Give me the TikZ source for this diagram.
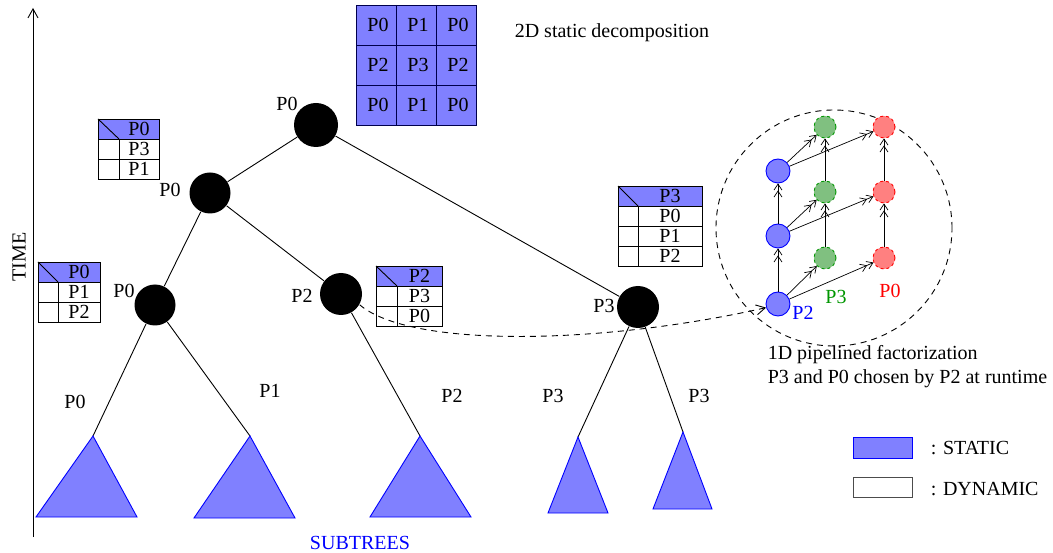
\documentclass[tikz,border=0pt]{standalone}
\usepackage{fontspec}
\setmainfont{Liberation Serif}
\usetikzlibrary{calc}
\usetikzlibrary{arrows.meta}
\definecolor{statblue}{RGB}{128,128,255}
\definecolor{pgreen}{RGB}{128,192,128}
\definecolor{pred}{RGB}{255,128,128}
\definecolor{dgreen}{RGB}{0,150,0}

% table of processes: x, y, width, first column, header, rows
\newcommand{\proctab}[6]{%
\filldraw[stat, draw=black] (#1,#2) rectangle ++(#3,20);
\draw (#1,#2) --++(#4,20);
\node (#5h#1) at (#1+#4/2+#3/2,#2+10) {#5};
\foreach \p [count=\i] in {#6} {
 \draw (#1,#2+20*\i) rectangle ++(#4,20);
 \draw (#1+#4,#2+20*\i) rectangle ++(#3-#4,20);
 \node (\p r#1) at (#1+#4/2+#3/2,#2+20*\i+10) {\p};
}}

\begin{document}
\begin{tikzpicture}[x=1pt, y=-1pt, line width=0.9pt,
 font=\fontsize{20}{24}\selectfont,
 >={Straight Barb[length=9pt, width=10pt]},
 tnode/.style={circle, fill=black, inner sep=0, minimum size=41pt},
 stat/.style={fill=statblue, draw=blue},
 bnode/.style={circle, fill=statblue, draw=blue, inner sep=0, minimum size=24pt},
 gnode/.style={circle, fill=pgreen, draw=dgreen, dashed, inner sep=0, minimum size=22pt},
 rnode/.style={circle, fill=pred, draw=red, dashed, inner sep=0, minimum size=22pt},
 dblarr/.style={-{Straight Barb[length=6pt, width=8pt] Straight Barb[length=6pt, width=8pt]}, line width=0.7pt}]
\useasboundingbox (0,0) rectangle (1053,553);

% time axis
\coordinate (tb) at (33,537);
\coordinate (tt) at (33,8);
\draw[->] (tb)--(tt);
\node[rotate=90] (time) at (19,257) {TIME};

% tree
\node[tnode, minimum size=44pt] (n0) at (316,125) {};
\node[tnode] (n1) at (210,193) {};
\node[tnode] (n2) at (155,305) {};
\node[tnode, minimum size=42pt] (n3) at (341,294) {};
\node[tnode, minimum size=42pt] (n4) at (638,307) {};
\node (l0) at (287,104) {P0};
\node (l1) at (170,190) {P0};
\node (l2) at (124,291) {P0};
\node (l3) at (302,296) {P2};
\node (l4) at (604,306) {P3};

\coordinate (t1) at (93,436);
\coordinate (t2) at (250,436);
\coordinate (t3) at (420,436);
\coordinate (t4) at (578,437);
\coordinate (t5) at (683,432);
\draw (n0)--(n1);
\draw (n0)--(n4);
\draw (n1)--(n2);
\draw (n1)--(n3);
\draw (n2)--(t1);
\draw (n2)--(t2);
\draw (n3)--(t3);
\draw (n4)--(t4);
\draw (n4)--(t5);
\node (e1) at (75,402) {P0};
\node (e2) at (270,391) {P1};
\node (e3) at (452,396) {P2};
\node (e4) at (553,396) {P3};
\node (e5) at (699,396) {P3};

% subtrees
\filldraw[stat] (t1) --++(-57,81) --++(101,0) -- cycle;
\filldraw[stat] (t2) --++(-56,82) --++(101,0) -- cycle;
\filldraw[stat] (t3) --++(-50,81) --++(101,0) -- cycle;
\filldraw[stat] (t4) --++(-30,76) --++(60,0) -- cycle;
\filldraw[stat] (t5) --++(-30,77) --++(59,0) -- cycle;
\node[text=blue] (sub) at (360,543) {SUBTREES};

% 2D grid
\filldraw[fill=statblue, draw=black!70!blue] (356,5) rectangle (476,125);
\foreach \x in {396,436} \draw[black!70!blue] (\x,5)--(\x,125);
\foreach \y in {45,85} \draw[black!70!blue] (356,\y)--(476,\y);
\foreach \p [count=\i from 0] in {P0,P1,P0,P2,P3,P2,P0,P1,P0} {
 \pgfmathtruncatemacro{\c}{mod(\i,3)}
 \pgfmathtruncatemacro{\r}{div(\i,3)}
 \node (g\i) at (378+40*\c,25+40*\r) {\p};
}
\node (dec) at (612,33) {2D static decomposition};

% tables
\proctab{98}{119}{61}{21}{P0}{P3,P1}
\proctab{38}{262}{62}{20}{P0}{P1,P2}
\proctab{376}{266}{66}{21}{P2}{P3,P0}
\proctab{618}{186}{84}{20}{P3}{P0,P1,P2}

% 1D pipeline
\node[draw, dash pattern=on 6pt off 5pt, circle, minimum size=236pt] (pipe) at (834,228) {};
\node[bnode] (b1) at (778,171) {};
\node[bnode] (b2) at (778,236) {};
\node[bnode] (b3) at (778,304) {};
\node[gnode] (c1) at (825,127) {};
\node[gnode] (c2) at (825,192) {};
\node[gnode] (c3) at (825,258) {};
\node[rnode] (r1) at (884,127) {};
\node[rnode] (r2) at (884,192) {};
\node[rnode] (r3) at (884,258) {};
\foreach \a/\b in {b3/b2, b2/b1, c3/c2, c2/c1, r3/r2, r2/r1,
 b3/c3, b3/r3, b2/c2, b2/r2, b1/c1, b1/r1}
 \draw[dblarr] (\a)--(\b);
\node[text=blue] (pb) at (803,313) {P2};
\node[text=dgreen] (pc) at (836,297) {P3};
\node[text=red] (pr) at (890,291) {P0};
\draw[->, dash pattern=on 6pt off 5pt] (n3.-30) .. controls (410,348) and (600,345) .. (b3.197);
\node[anchor=west] (f1) at (764,355) {1D pipelined factorization};
\node[anchor=west] (f2) at (764,379) {P3 and P0 chosen by P2 at runtime};

% legend
\filldraw[stat] (853,437) rectangle (912,458);
\draw[black!70] (853,477) rectangle (912,497);
\node[anchor=west] (ls) at (927,448) {: STATIC};
\node[anchor=west] (ld) at (927,489) {: DYNAMIC};
\end{tikzpicture}
\end{document}
